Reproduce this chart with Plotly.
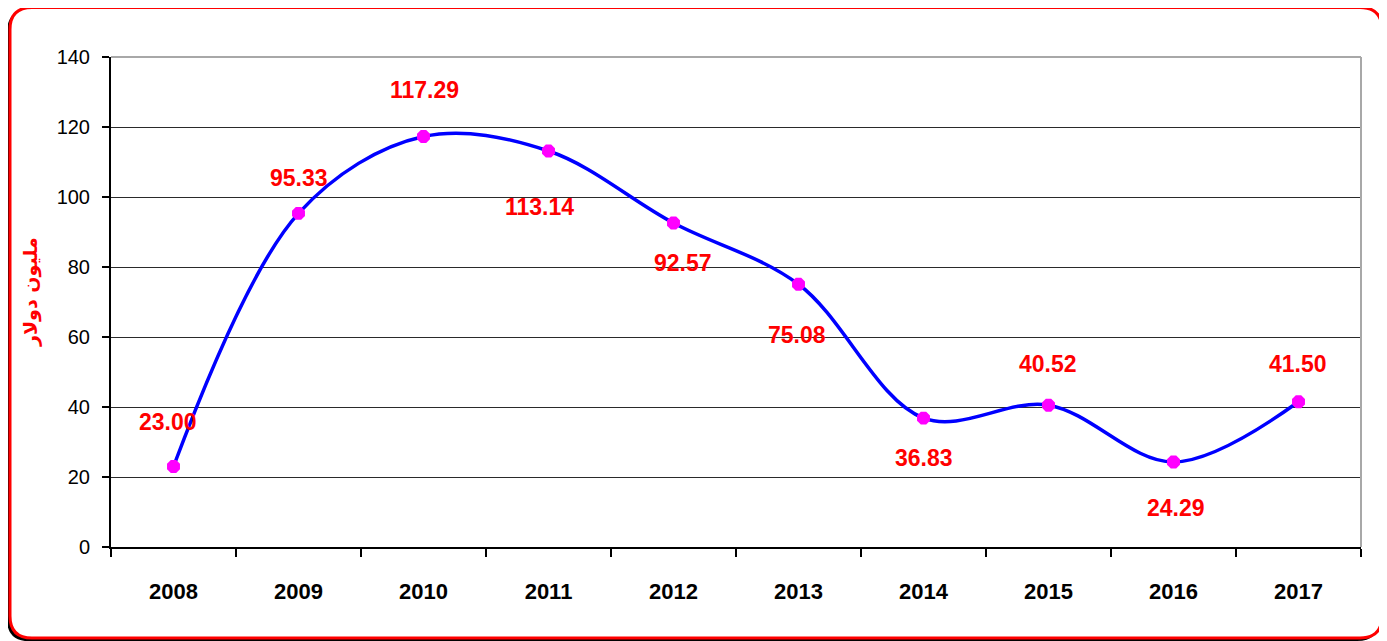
import plotly.graph_objects as go

years = ["2008", "2009", "2010", "2011", "2012", "2013", "2014", "2015", "2016", "2017"]
values = [23.00, 95.33, 117.29, 113.14, 92.57, 75.08, 36.83, 40.52, 24.29, 41.50]
y_title = "مليون دولار"
y_ticks = [0, 20, 40, 60, 80, 100, 120, 140]

# label offsets (px) relative to each point
label_dx = [-6, 0, 1, -9, 9, -2, 0, -1, 2, -1]
label_dy = [45, 35, 46, -56, -40, -51, -40, 41, -46, 38]

OFF = 8  # page body margin
W, H = 1387 - OFF, 641 - OFF
L, R, T, B = 111 - OFF, 1361 - OFF, 57 - OFF, 547 - OFF


def px(x):
    return (x - OFF - L) / (R - L)


def py(y):
    return (B - (y - OFF)) / (B - T)


def rrect(x0, y0, x1, y1, r):
    return (f"M {px(x0 + r)},{py(y0)} L {px(x1 - r)},{py(y0)} "
            f"Q {px(x1)},{py(y0)} {px(x1)},{py(y0 + r)} "
            f"L {px(x1)},{py(y1 - r)} Q {px(x1)},{py(y1)} {px(x1 - r)},{py(y1)} "
            f"L {px(x0 + r)},{py(y1)} Q {px(x0)},{py(y1)} {px(x0)},{py(y1 - r)} "
            f"L {px(x0)},{py(y0 + r)} Q {px(x0)},{py(y0)} {px(x0 + r)},{py(y0)} Z")


fig = go.Figure()
fig.add_trace(go.Scatter(
    x=years, y=values, mode="lines+markers",
    line=dict(color="#0000FF", width=3.5, shape="spline", smoothing=1.0),
    marker=dict(color="#FF00FF", size=14, symbol="octagon"),
    hoverinfo="skip", showlegend=False,
))

annotations = []
for i, (v, dx, dy) in enumerate(zip(values, label_dx, label_dy)):
    annotations.append(dict(
        x=i, y=v, xref="x", yref="y", text=f"<b>{v:.2f}</b>", showarrow=False,
        xshift=dx, yshift=dy, xanchor="center", yanchor="middle",
        font=dict(family="Liberation Sans", size=23, color="#FF0000"),
    ))
annotations.append(dict(
    x=px(30), y=py(292), xref="paper", yref="paper", text=f"<b>{y_title}</b>",
    showarrow=False, textangle=-90, xanchor="center", yanchor="middle",
    font=dict(family="DejaVu Sans", size=19, color="#FF0000"),
))

shapes = [
    dict(type="path", xref="paper", yref="paper", path=rrect(7, 10, 1379, 641, 22),
         fillcolor="#000000", line=dict(width=0), layer="below"),
    dict(type="path", xref="paper", yref="paper", path=rrect(10, 7.5, 1382, 638, 22),
         fillcolor="#FFFFFF", line=dict(color="#FF0000", width=3), layer="below"),
    dict(type="line", xref="paper", yref="paper", x0=0, x1=1, y0=1, y1=1,
         line=dict(color="#A8A8A8", width=2), layer="above"),
    dict(type="line", xref="paper", yref="paper", x0=1, x1=1, y0=0, y1=1,
         line=dict(color="#A8A8A8", width=2), layer="above"),
]

fig.update_layout(
    width=W, height=H,
    margin=dict(l=L, r=W - R, t=T, b=H - B, pad=0),
    paper_bgcolor="rgba(0,0,0,0)", plot_bgcolor="rgba(0,0,0,0)",
    annotations=annotations, shapes=shapes,
    xaxis=dict(
        type="category", range=[-0.5, 9.5], tickson="boundaries",
        ticks="outside", ticklen=8, tickwidth=2, tickcolor="#000000",
        showline=True, linecolor="#000000", linewidth=2, showgrid=False,
        tickfont=dict(family="Liberation Sans", size=22, color="#000000", weight="bold"),
        ticklabelstandoff=24,
    ),
    yaxis=dict(
        range=[0, 140], tickvals=y_ticks, ticks="outside", ticklen=7, tickwidth=2,
        tickcolor="#000000", showline=True, linecolor="#000000", linewidth=2,
        showgrid=True, gridcolor="#2A2A2A", gridwidth=1.2, zeroline=False,
        tickfont=dict(family="Liberation Sans", size=20, color="#000000"),
        ticklabelstandoff=8,
    ),
)

fig.write_html("out.html")
